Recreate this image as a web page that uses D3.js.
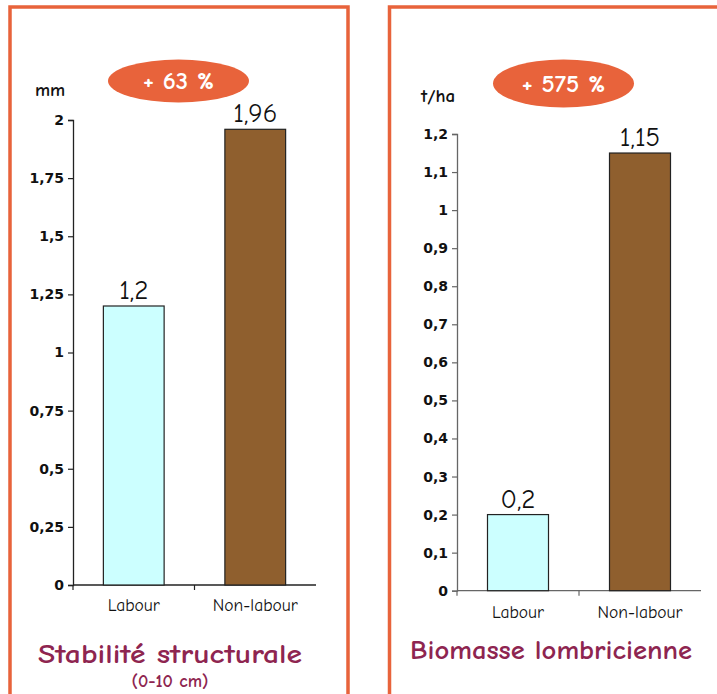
<!DOCTYPE html>
<html>
<head>
<meta charset="utf-8">
<script src="https://cdn.jsdelivr.net/npm/d3@7/dist/d3.min.js"></script>
<style>
  html, body { margin: 0; padding: 0; background: #fff; }
  svg { display: block; }
</style>
</head>
<body>
<svg id="chart" width="717" height="694"></svg>
<script>
// Tillage comparison: labour vs non-labour
const categories = ["Labour", "Non-labour"];

const stabiliteValues = [1.2, 1.96];
const stabiliteTicks = [0, 0.25, 0.5, 0.75, 1, 1.25, 1.5, 1.75, 2];
const stabiliteLabels = ["1,2", "1,96"];

const biomasseValues = [0.2, 1.15];
const biomasseTicks = [0, 0.1, 0.2, 0.3, 0.4, 0.5, 0.6, 0.7, 0.8, 0.9, 1, 1.1, 1.2];
const biomasseLabels = ["0,2", "1,15"];

const barColors = ["#ccffff", "#8f5f2e"];
const frameColor = "#e8633b";
const titleColor = "#8e2550";
const handFont = "'Comic Sans MS', 'Comic Neue', 'DejaVu Sans', sans-serif";
const axisFont = "'DejaVu Sans', Verdana, sans-serif";

const fmt = v => String(v).replace(".", ",");

const svg = d3.select("#chart");

function drawPanel(p) {
  const g = svg.append("g");

  // panel frame: left, top and right sides (the bottom lies below the page)
  const [fx, fy, fw, fh] = p.frame;
  g.append("path")
    .attr("d", `M${fx},${fy + fh}V${fy}H${fx + fw}V${fy + fh}`)
    .attr("fill", "none").attr("stroke", frameColor).attr("stroke-width", 3.5);

  const y = d3.scaleLinear().domain([0, p.max]).range([p.y0, p.y1]);
  const x = d3.scaleBand().domain(categories).range([p.x0, p.x1]).paddingInner(0.5).paddingOuter(0.25);

  // y axis
  const yAxis = g.append("g")
    .attr("transform", `translate(${p.x0},0)`)
    .call(d3.axisLeft(y).tickValues(p.ticks).tickFormat(fmt).tickSize(5).tickPadding(4));
  yAxis.attr("font-family", axisFont).attr("font-size", 14);
  yAxis.select(".domain").attr("stroke", p.axisColor).attr("stroke-width", 1.3);
  yAxis.selectAll(".tick line").attr("stroke", p.axisColor).attr("stroke-width", 1.2);
  yAxis.selectAll(".tick text")
    .attr("font-family", axisFont).attr("font-size", 14).attr("font-weight", "bold")
    .attr("fill", "#111");

  // x axis baseline with category separators
  const xg = g.append("g").attr("transform", `translate(0,${p.y0})`);
  xg.append("line").attr("x1", p.x0).attr("x2", p.x1)
    .attr("stroke", p.axisColor).attr("stroke-width", 1.3);
  const seps = [p.x0, (p.x0 + p.x1) / 2];
  xg.selectAll("line.sep").data(seps).join("line").attr("class", "sep")
    .attr("x1", d => d).attr("x2", d => d).attr("y1", 0).attr("y2", 5)
    .attr("stroke", p.axisColor).attr("stroke-width", 1.2);
  xg.selectAll("text").data(categories).join("text")
    .attr("x", d => x(d) + x.bandwidth() / 2)
    .attr("y", p.catY - p.y0)
    .attr("text-anchor", "middle")
    .attr("font-family", handFont).attr("font-size", 17.5)
    .attr("fill", "#111")
    .text(d => d);

  // bars
  g.selectAll("rect.bar").data(p.values).join("rect").attr("class", "bar")
    .attr("x", (d, i) => x(categories[i]))
    .attr("width", x.bandwidth())
    .attr("y", d => y(d))
    .attr("height", d => y(0) - y(d))
    .attr("fill", (d, i) => barColors[i])
    .attr("stroke", "#222").attr("stroke-width", 1.2);

  // value labels
  g.selectAll("text.val").data(p.values).join("text").attr("class", "val")
    .attr("x", (d, i) => x(categories[i]) + x.bandwidth() / 2)
    .attr("y", d => y(d) - 7)
    .attr("text-anchor", "middle")
    .attr("font-family", handFont).attr("font-size", 27)
    .attr("fill", "#111")
    .text((d, i) => p.labels[i]);

  // unit
  g.append("text")
    .attr("x", p.unitX).attr("y", p.unitY)
    .attr("font-family", handFont).attr("font-size", 19).attr("font-weight", "bold")
    .attr("fill", "#111").text(p.unit);

  // percentage badge
  g.append("ellipse")
    .attr("cx", p.badge[0]).attr("cy", p.badge[1])
    .attr("rx", p.badge[2]).attr("ry", p.badge[3])
    .attr("fill", frameColor);
  g.append("text")
    .attr("x", p.badge[0]).attr("y", p.badge[1] + 8)
    .attr("text-anchor", "middle")
    .attr("font-family", handFont).attr("font-size", 25).attr("font-weight", "bold")
    .attr("fill", "#fff").text(p.badgeText);

  // title
  g.append("text")
    .attr("x", p.titleX).attr("y", p.titleY)
    .attr("text-anchor", "middle")
    .attr("font-family", handFont).attr("font-size", 26).attr("font-weight", "bold")
    .attr("textLength", p.titleW).attr("lengthAdjust", "spacingAndGlyphs")
    .attr("fill", titleColor).text(p.title);
  if (p.sub) {
    g.append("text")
      .attr("x", p.titleX).attr("y", p.subY)
      .attr("text-anchor", "middle")
      .attr("font-family", handFont).attr("font-size", 18).attr("font-weight", "bold")
      .attr("fill", titleColor).text(p.sub);
  }
}

drawPanel({
  frame: [10, 7, 338, 700],
  max: 2, ticks: stabiliteTicks, values: stabiliteValues, labels: stabiliteLabels,
  x0: 73, x1: 316, y0: 585, y1: 120,
  axisColor: "#222", catY: 611,
  unit: "mm", unitX: 35, unitY: 96,
  badge: [178.5, 81, 70.5, 21.5], badgeText: "+ 63 %",
  title: "Stabilité structurale", titleX: 170, titleY: 663, titleW: 264,
  sub: "(0-10 cm)", subY: 687
});

drawPanel({
  frame: [389.5, 7, 360, 700],
  max: 1.2, ticks: biomasseTicks, values: biomasseValues, labels: biomasseLabels,
  x0: 457, x1: 701, y0: 590.7, y1: 134,
  axisColor: "#666", catY: 618,
  unit: "t/ha", unitX: 421, unitY: 102,
  badge: [563.5, 83.5, 70.5, 24], badgeText: "+ 575 %",
  title: "Biomasse lombricienne", titleX: 551, titleY: 659, titleW: 282
});
</script>
</body>
</html>
